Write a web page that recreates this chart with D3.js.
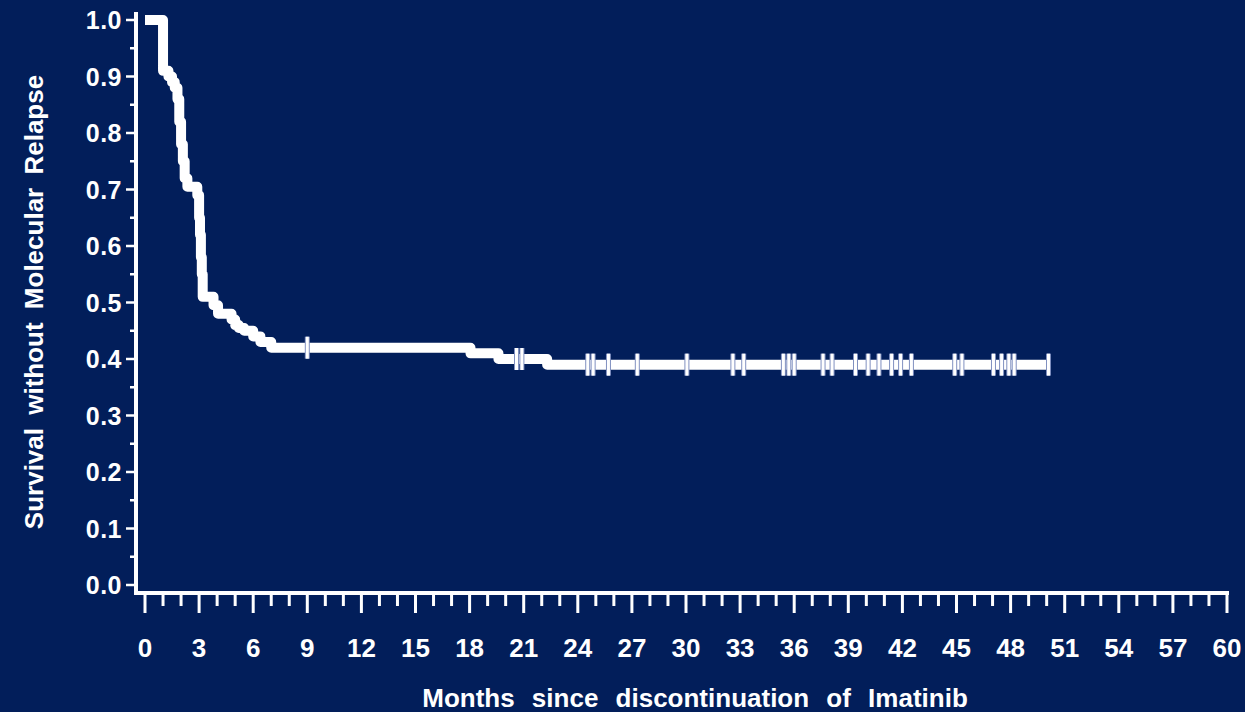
<!DOCTYPE html>
<html><head><meta charset="utf-8">
<script src="https://cdn.jsdelivr.net/npm/d3@7"></script>
<style>
html,body{margin:0;padding:0;background:#021e5a;}
svg{display:block;}
text{font-family:"Liberation Sans",Arial,sans-serif;fill:#fff;}
</style></head>
<body>
<svg id="chart" width="1245" height="712"></svg>
<script>
// Kaplan-Meier step points (month, survival)
const stepMonths   = [0, 1.0, 1.3, 1.5, 1.65, 1.8, 1.9, 2.0, 2.1, 2.2, 2.35, 2.9, 3.0, 3.05, 3.1, 3.15, 3.2, 3.8, 4.05, 4.8, 5.0, 5.2, 5.5, 6.0, 6.4, 7.0, 18.05, 19.6, 22.3, 50.1];
const stepSurvival = [1.0, 0.91, 0.90, 0.89, 0.88, 0.86, 0.82, 0.78, 0.75, 0.72, 0.705, 0.69, 0.65, 0.62, 0.58, 0.55, 0.51, 0.495, 0.48, 0.47, 0.46, 0.455, 0.45, 0.44, 0.43, 0.42, 0.41, 0.40, 0.39, 0.39];
// Censored observations (months)
const censorMonths = [9.0, 20.6, 20.9, 24.55, 24.85, 25.7, 27.3, 30.05, 32.6, 33.2, 35.4, 35.7, 36.0, 37.6, 38.1, 39.4, 40.1, 40.7, 41.4, 41.9, 42.5, 44.9, 45.3, 47.05, 47.5, 47.9, 48.2, 50.1];
// Axis ticks
const yTickValues = [0.0, 0.1, 0.2, 0.3, 0.4, 0.5, 0.6, 0.7, 0.8, 0.9, 1.0];
const xTickValues = [0, 3, 6, 9, 12, 15, 18, 21, 24, 27, 30, 33, 36, 39, 42, 45, 48, 51, 54, 57, 60];
const yTitle = "Survival without Molecular Relapse";
const xTitle = "Months since discontinuation of Imatinib";

const svg = d3.select("#chart");
const W = 1245, H = 712;
svg.append("rect").attr("width", W).attr("height", H).attr("fill", "#021e5a");

const x = d3.scaleLinear().domain([0, 60]).range([145, 1227]);
const y = d3.scaleLinear().domain([0, 1]).range([585, 20]);

const axisX0 = 136, axisY0 = 593;

// Y axis line
svg.append("line").attr("x1", axisX0).attr("x2", axisX0).attr("y1", 12).attr("y2", axisY0 + 1.5)
  .attr("stroke", "#fff").attr("stroke-width", 4);
// Y ticks (major + minor)
const yMinor = d3.range(0, 1.0001, 0.05);
svg.append("g").selectAll("line").data(yMinor).join("line")
  .attr("x1", d => (Math.round(d * 100) % 10 === 0) ? axisX0 - 10 : axisX0 - 6)
  .attr("x2", axisX0)
  .attr("y1", d => y(d)).attr("y2", d => y(d))
  .attr("stroke", "#fff").attr("stroke-width", 2.5);
svg.append("g").selectAll("text").data(yTickValues).join("text")
  .attr("x", 122).attr("y", d => y(d)).attr("dy", "0.36em")
  .attr("text-anchor", "end").attr("font-size", 25).attr("font-weight", "bold")
  .attr("letter-spacing", "0.5px")
  .text(d => d.toFixed(1));

// X axis line
svg.append("line").attr("x1", axisX0 - 2).attr("x2", 1229).attr("y1", axisY0).attr("y2", axisY0)
  .attr("stroke", "#fff").attr("stroke-width", 4);
const xMinor = d3.range(0, 61, 1);
svg.append("g").selectAll("line").data(xMinor).join("line")
  .attr("x1", d => x(d)).attr("x2", d => x(d))
  .attr("y1", axisY0).attr("y2", d => d % 3 === 0 ? 613 : 606)
  .attr("stroke", "#fff").attr("stroke-width", 3);
svg.append("g").selectAll("text").data(xTickValues).join("text")
  .attr("x", d => x(d)).attr("y", 657)
  .attr("text-anchor", "middle").attr("font-size", 26).attr("font-weight", "bold")
  .text(d => d);

// Titles
svg.append("text").attr("x", 695).attr("y", 707).attr("text-anchor", "middle")
  .attr("font-size", 26).attr("font-weight", "bold").attr("word-spacing", "10px")
  .text(xTitle);
svg.append("text").attr("transform", "translate(43,302) rotate(-90)").attr("text-anchor", "middle")
  .attr("font-size", 26).attr("font-weight", "bold").attr("word-spacing", "6px")
  .text(yTitle);

// KM curve
const pts = stepMonths.map((m, i) => [m, stepSurvival[i]]);
const line = d3.line().x(d => x(d[0])).y(d => y(d[1])).curve(d3.curveStepAfter);
svg.append("path").attr("d", line(pts)).attr("fill", "none")
  .attr("stroke", "#fff").attr("stroke-width", 10).attr("stroke-linejoin", "round").attr("stroke-linecap", "butt");

// Censor marks
const bis = d3.bisector(d => d).right;
const survAt = m => stepSurvival[Math.max(0, bis(stepMonths, m) - 1)];
const cg = svg.append("g");
cg.selectAll("line.o").data(censorMonths).join("line").attr("class", "o")
  .attr("x1", d => x(d)).attr("x2", d => x(d))
  .attr("y1", d => y(survAt(d)) - 11).attr("y2", d => y(survAt(d)) + 11)
  .attr("stroke", "#8090c0").attr("stroke-width", 5);
cg.selectAll("line.i").data(censorMonths).join("line").attr("class", "i")
  .attr("x1", d => x(d)).attr("x2", d => x(d))
  .attr("y1", d => y(survAt(d)) - 11).attr("y2", d => y(survAt(d)) + 11)
  .attr("stroke", "#fff").attr("stroke-width", 3);
</script>
</body></html>
